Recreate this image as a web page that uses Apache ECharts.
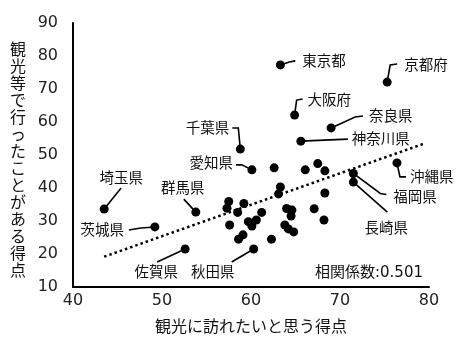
<!DOCTYPE html>
<html>
<head>
<meta charset="utf-8">
<script src="https://cdn.jsdelivr.net/npm/echarts@6/dist/echarts.min.js"></script>
<style>
  html, body { margin: 0; padding: 0; background: #fff; }
  #chart { width: 459px; height: 345px; }
</style>
</head>
<body>
<div id="chart"></div>
<script>
// Prefectures that carry a name label
const labelledNames = ['東京都', '京都府', '大阪府', '奈良県', '神奈川県', '千葉県', '愛知県',
  '埼玉県', '群馬県', '茨城県', '佐賀県', '秋田県', '沖縄県', '福岡県', '長崎県'];
const labelledWish = [63.3, 75.3, 64.9, 69.0, 65.6, 58.8, 60.1, 43.5, 53.8, 49.2, 52.6, 60.3, 76.4, 71.5, 71.5];
const labelledVisited = [77.3, 72.1, 62.1, 58.2, 54.2, 51.8, 45.5, 33.6, 32.7, 28.2, 21.5, 21.5, 47.6, 44.4, 41.8];

// Remaining prefectures (no label)
const otherWish = [62.6, 66.1, 67.5, 68.3, 63.3, 63.1, 68.3, 57.5, 59.2, 57.3, 58.5, 61.2, 64.0, 64.6,
  64.5, 67.1, 59.7, 60.6, 57.6, 60.1, 68.2, 63.8, 64.8, 59.1, 58.6, 62.3, 64.2];
const otherVisited = [46.1, 45.5, 47.4, 45.2, 40.3, 38.2, 38.5, 35.9, 35.3, 33.9, 32.6, 32.6, 33.8, 33.3,
  31.5, 33.7, 29.8, 30.3, 28.8, 28.5, 30.3, 28.8, 26.7, 25.8, 24.5, 24.5, 27.6];

// Dotted trend line end points
const trendWish = [43.5, 79.6];
const trendVisited = [19.2, 53.6];

const xTicks = [40, 50, 60, 70, 80];
const yTicks = [10, 20, 30, 40, 50, 60, 70, 80, 90];
const correlationText = '相関係数:0.501';
const xAxisTitle = '観光に訪れたいと思う得点';
const yAxisTitle = '観光等で行ったことがある得点';

const FONT = "'DejaVu Sans', 'Noto Sans CJK JP', sans-serif";
const LABEL_FONT = "'Noto Sans CJK JP', sans-serif";

// Leader line shape (pixel offsets from the dot) and label placement
const labelLayout = {
  '東京都':  { path: [[0, 0], [9, -3], [15, -4]], text: [22, -4], align: 'left' },
  '京都府':  { path: [[0, 0], [3, -17], [10, -18]], text: [17, -18], align: 'left' },
  '大阪府':  { path: [[0, 0], [2, -15], [8, -16]], text: [13, -16], align: 'left' },
  '奈良県':  { path: [[0, 0], [24, -11], [32, -12]], text: [38, -12], align: 'left' },
  '神奈川県': { path: [[0, 0], [47, -2]], text: [51, -3], align: 'left' },
  '千葉県':  { path: [[0, 0], [-2, -21], [-8, -21]], text: [-11, -22], align: 'right' },
  '愛知県':  { path: [[0, 0], [-10, -5], [-16, -5]], text: [-19, -7], align: 'right' },
  '埼玉県':  { path: [[0, 0], [17, -21]], text: [17, -32], align: 'center' },
  '群馬県':  { path: [[0, 0], [-12, -13]], text: [-13, -25], align: 'center' },
  '茨城県':  { path: [[0, 0], [-14, 1], [-26, 3]], text: [-31, 3], align: 'right' },
  '佐賀県':  { path: [[0, 0], [-28, 13]], text: [-29, 22], align: 'center' },
  '秋田県':  { path: [[0, 0], [-22, 13]], text: [-41, 22], align: 'center' },
  '沖縄県':  { path: [[0, 0], [3, 14], [9, 14]], text: [13, 14], align: 'left' },
  '福岡県':  { path: [[0, 0], [27, 20], [33, 21]], text: [40, 23], align: 'left' },
  '長崎県':  { path: [[0, 0], [34, 30]], text: [33, 45], align: 'center' }
};

const labelledData = labelledWish.map((x, i) => [x, labelledVisited[i]]);
const otherData = otherWish.map((x, i) => [x, otherVisited[i]]);
const trendData = trendWish.map((x, i) => [x, trendVisited[i]]);

const chart = echarts.init(document.getElementById('chart'), null, { renderer: 'canvas' });

chart.setOption({
  animation: false,
  backgroundColor: '#fff',
  grid: { left: 73, right: 30, top: 23, bottom: 58, containLabel: false },
  xAxis: {
    type: 'value',
    min: xTicks[0], max: xTicks[xTicks.length - 1], interval: 10,
    axisLine: { show: true, lineStyle: { color: '#000', width: 2 } },
    axisTick: { show: false },
    splitLine: { show: false },
    axisLabel: { color: '#222', fontSize: 16, fontFamily: FONT, margin: 6 },
    name: xAxisTitle,
    nameLocation: 'middle',
    nameGap: 31,
    nameTextStyle: { color: '#111', fontSize: 16, fontFamily: LABEL_FONT }
  },
  yAxis: {
    type: 'value',
    min: yTicks[0], max: yTicks[yTicks.length - 1], interval: 10,
    axisLine: { show: true, lineStyle: { color: '#000', width: 2 } },
    axisTick: { show: false },
    splitLine: { show: false },
    axisLabel: { color: '#222', fontSize: 16, fontFamily: FONT, margin: 15 }
  },
  graphic: [
    {
      type: 'text', left: 10, top: 40,
      style: {
        text: yAxisTitle.split('').join('\n'),
        fill: '#111', font: '16px ' + LABEL_FONT, lineHeight: 17, align: 'center'
      }
    },
    {
      type: 'text', right: 36, top: 266,
      style: { text: correlationText, fill: '#111', font: '15px ' + FONT }
    }
  ],
  series: [
    {
      type: 'line',
      data: trendData,
      symbol: 'none',
      silent: true,
      z: 1,
      lineStyle: { color: '#000', width: 2.5, type: [2.5, 3] }
    },
    {
      type: 'custom',
      data: labelledData,
      z: 2,
      renderItem: function (params, api) {
        const name = labelledNames[params.dataIndex];
        const lay = labelLayout[name];
        const p = api.coord([api.value(0), api.value(1)]);
        return {
          type: 'group',
          children: [
            {
              type: 'polyline',
              shape: { points: lay.path.map(d => [p[0] + d[0], p[1] + d[1]]) },
              style: { stroke: '#000', lineWidth: 1.6, fill: null }
            },
            {
              type: 'text',
              x: p[0] + lay.text[0],
              y: p[1] + lay.text[1],
              style: {
                text: name, align: lay.align, verticalAlign: 'middle',
                fill: '#111', font: '14.5px ' + LABEL_FONT
              }
            }
          ]
        };
      }
    },
    {
      type: 'scatter',
      data: labelledData,
      symbol: 'circle',
      symbolSize: 9,
      z: 3,
      itemStyle: { color: '#000', opacity: 1 }
    },
    {
      type: 'scatter',
      data: otherData,
      symbol: 'circle',
      symbolSize: 9,
      z: 3,
      itemStyle: { color: '#000', opacity: 1 }
    }
  ]
});
</script>
</body>
</html>
